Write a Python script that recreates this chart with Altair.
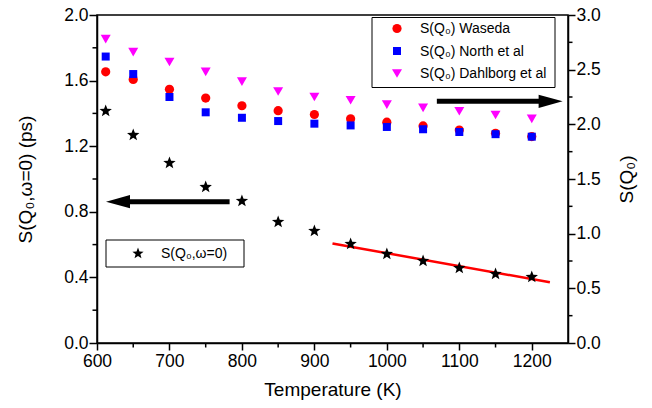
import altair as alt
import pandas as pd

# ---------------- data ----------------
temps = [612, 650, 700, 750, 800, 850, 900, 950, 1000, 1050, 1100, 1150, 1200]
s_w0 = [1.415, 1.268, 1.098, 0.951, 0.866, 0.738, 0.683, 0.604, 0.543, 0.500, 0.457, 0.421, 0.402]
waseda = [2.48, 2.41, 2.32, 2.24, 2.17, 2.125, 2.09, 2.05, 2.02, 1.985, 1.948, 1.918, 1.888]
north = [2.62, 2.46, 2.25, 2.11, 2.06, 2.03, 2.006, 1.99, 1.976, 1.955, 1.93, 1.91, 1.887]
dahlborg = [2.78, 2.66, 2.57, 2.48, 2.39, 2.30, 2.25, 2.22, 2.18, 2.15, 2.12, 2.085, 2.05]

series_names = ["S(Q₀) Waseda", "S(Q₀) North et al", "S(Q₀) Dahlborg et al"]
series_colors = ["#ff0000", "#0000ff", "#ff00ff"]
series_shapes = ["circle", "square", "triangle-down"]
series_sizes = [85, 64, 100]
star_name = "S(Q₀,ω=0)"

fit_T = [925, 1225]
fit_v = [0.607, 0.370]

arrow_left_T = [629, 783]      # head centre, tail
arrow_left_v = 0.862           # left axis units
arrow_right_T = [1069, 1226]   # tail, head centre
arrow_right_v = 2.21           # right axis units

# tick positions
x_major = [600, 700, 800, 900, 1000, 1100, 1200]
x_minor = [650, 750, 850, 950, 1050, 1150]
yl_major = [0.0, 0.4, 0.8, 1.2, 1.6, 2.0]
yl_minor = [0.2, 0.6, 1.0, 1.4, 1.8]
yr_major = [0.0, 0.5, 1.0, 1.5, 2.0, 2.5, 3.0]
yr_minor = [0.25, 0.75, 1.25, 1.75, 2.25, 2.75]

x_title = "Temperature (K)"
left_title = "S(Q₀,ω=0) (ps)"
right_title = "S(Q₀)"

FONT = "Liberation Sans"
STAR = ("M0,-1L0.247,-0.34L0.951,-0.309L0.399,0.13L0.588,0.809L0,0.42"
        "L-0.588,0.809L-0.399,0.13L-0.951,-0.309L-0.247,-0.34Z")

W, H = 471, 328

# ---------------- scales & axes ----------------
x_axis = alt.Axis(values=x_major, format="d", tickSize=7, labelPadding=2,
                  titlePadding=11, labelFlush=False, labelOverlap=False)
x_scale = alt.Scale(domain=[600, 1250], nice=False, zero=False)

left_axis = alt.Axis(orient="left", values=yl_major, format=".1f", tickSize=8,
                     labelPadding=1, titlePadding=28, labelFlush=False, labelOverlap=False)
left_scale = alt.Scale(domain=[0, 2.0], nice=False, zero=False)

right_axis = alt.Axis(orient="right", values=yr_major, format=".1f", tickSize=7,
                      labelPadding=1, titlePadding=17, titleAngle=270, titleBaseline="top",
                      labelFlush=False, labelOverlap=False)
right_scale = alt.Scale(domain=[0, 3.0], nice=False, zero=False)


def X(field="T"):
    return alt.X(f"{field}:Q", scale=x_scale, axis=x_axis, title=x_title)


def YL():
    return alt.Y("v:Q", scale=left_scale, axis=left_axis, title=left_title)


def YR():
    return alt.Y("v:Q", scale=right_scale, axis=right_axis, title=right_title)


# ---------------- left-axis layer ----------------
stars = alt.Chart(pd.DataFrame({"T": temps, "v": s_w0})).mark_point(
    shape=STAR, filled=True, color="black", size=170, opacity=1
).encode(x=X(), y=YL())

fit = alt.Chart(pd.DataFrame({"T": fit_T, "v": fit_v})).mark_line(
    color="#ff0000", strokeWidth=2.5
).encode(x=X(), y=YL())

al_shaft = alt.Chart(
    pd.DataFrame({"T": [arrow_left_T[0]], "T2": [arrow_left_T[1]], "v": [arrow_left_v]})
).mark_rule(color="black", strokeWidth=5).encode(x=X(), x2="T2:Q", y=YL())
al_head = alt.Chart(pd.DataFrame({"T": [arrow_left_T[0]], "v": [arrow_left_v]})).mark_point(
    shape="M-1,0L1,-0.55L1,0.55Z", filled=True, color="black", size=576, opacity=1
).encode(x=X(), y=YL())

# minor ticks
xminor_ticks = alt.Chart(pd.DataFrame({"T": x_minor})).mark_rule(
    color="black", strokeWidth=1.5
).encode(x=X(), y=alt.value(H), y2=alt.value(H + 4.5))
ylminor_ticks = alt.Chart(pd.DataFrame({"v": yl_minor})).mark_rule(
    color="black", strokeWidth=1.5
).encode(y=YL(), x=alt.value(0), x2=alt.value(-4.5))

# star legend (drawn by hand, pixel layout only)
leg2 = [
    alt.Chart(pd.DataFrame({"a": [0]})).mark_rect(
        fill="white", stroke="black", strokeWidth=1
    ).encode(x=alt.value(9), x2=alt.value(147), y=alt.value(225), y2=alt.value(252)),
    alt.Chart(pd.DataFrame({"a": [0]})).mark_point(
        shape=STAR, filled=True, color="black", size=140, opacity=1
    ).encode(x=alt.value(41), y=alt.value(238.5)),
    alt.Chart(pd.DataFrame({"label": [star_name]})).mark_text(
        align="left", baseline="middle", font=FONT, fontSize=14, color="black"
    ).encode(x=alt.value(64), y=alt.value(239), text="label:N"),
]

left = alt.layer(fit, al_shaft, al_head, stars, xminor_ticks, ylminor_ticks, *leg2)

# ---------------- right-axis layer ----------------
right_layers = []
for vals, col, shp, sz in zip([waseda, north, dahlborg], series_colors, series_shapes, series_sizes):
    right_layers.append(
        alt.Chart(pd.DataFrame({"T": temps, "v": vals})).mark_point(
            shape=shp, filled=True, color=col, size=sz, opacity=1
        ).encode(x=X(), y=YR())
    )

ar_shaft = alt.Chart(
    pd.DataFrame({"T": [arrow_right_T[0]], "T2": [arrow_right_T[1]], "v": [arrow_right_v]})
).mark_rule(color="black", strokeWidth=5).encode(x=X(), x2="T2:Q", y=YR())
ar_head = alt.Chart(pd.DataFrame({"T": [arrow_right_T[1]], "v": [arrow_right_v]})).mark_point(
    shape="M1,0L-1,-0.55L-1,0.55Z", filled=True, color="black", size=576, opacity=1
).encode(x=X(), y=YR())

yrminor_ticks = alt.Chart(pd.DataFrame({"v": yr_minor})).mark_rule(
    color="black", strokeWidth=1.5
).encode(y=YR(), x=alt.value(W), x2=alt.value(W + 4.5))

# series legend (drawn by hand, pixel layout only)
leg1 = [
    alt.Chart(pd.DataFrame({"a": [0]})).mark_rect(
        fill="white", stroke="black", strokeWidth=1
    ).encode(x=alt.value(275), x2=alt.value(458), y=alt.value(2.5), y2=alt.value(72.5)),
]
for i, (name, col, shp, sz) in enumerate(zip(series_names, series_colors, series_shapes, series_sizes)):
    yy = 13.5 + 22.5 * i
    leg1.append(
        alt.Chart(pd.DataFrame({"a": [0]})).mark_point(
            shape=shp, filled=True, color=col, size=sz, opacity=1
        ).encode(x=alt.value(300), y=alt.value(yy))
    )
    leg1.append(
        alt.Chart(pd.DataFrame({"label": [name]})).mark_text(
            align="left", baseline="middle", font=FONT, fontSize=14, color="black"
        ).encode(x=alt.value(323), y=alt.value(yy + 0.5), text="label:N")
    )

right = alt.layer(*right_layers, ar_shaft, ar_head, yrminor_ticks, *leg1)

chart = (
    alt.layer(left, right)
    .resolve_scale(y="independent")
    .properties(
        width=W, height=H,
        autosize=alt.AutoSizeParams(type="none"),
        padding={"left": 89, "top": 7, "right": 76, "bottom": 57},
    )
    .configure_axis(
        domainColor="black", domainWidth=1.5, tickColor="black", tickWidth=1.5,
        labelFont=FONT, labelFontSize=17.5, labelColor="black",
        titleFont=FONT, titleFontSize=19, titleFontWeight="normal", titleColor="black",
        grid=False,
    )
    .configure_view(stroke="black", strokeWidth=1.5)
)

chart.save("out.html", embed_options={"renderer": "svg", "actions": False})
